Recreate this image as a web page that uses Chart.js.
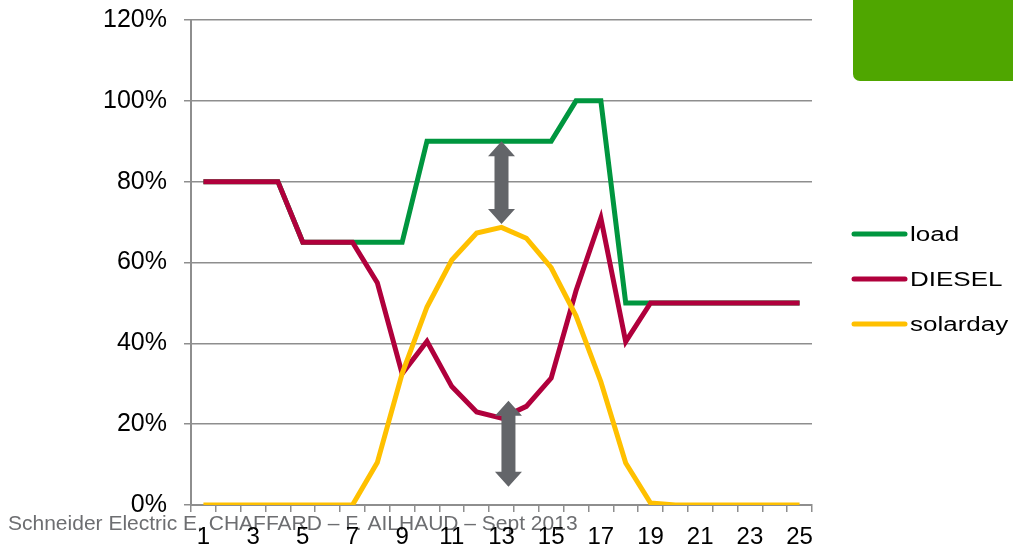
<!DOCTYPE html>
<html>
<head>
<meta charset="utf-8">
<script src="https://cdn.jsdelivr.net/npm/chart.js@4.4.1/dist/chart.umd.min.js"></script>
<style>
  html, body { margin: 0; padding: 0; background: #ffffff; }
  #wrap { position: relative; width: 1013px; height: 549px; }
  #badge { position: absolute; left: 853px; top: 0; width: 160px; height: 81px;
           background: #4fa600; border-bottom-left-radius: 7px; }
</style>
</head>
<body>
<div id="wrap">
  <canvas id="chart" width="1013" height="549"></canvas>
  <div id="badge"></div>
</div>
<script>
// Hours of the day
const hours = ['1','2','3','4','5','6','7','8','9','10','11','12','13',
               '14','15','16','17','18','19','20','21','22','23','24','25'];

// Share of rated power (%)
const load     = [80, 80, 80, 80, 65, 65, 65, 65, 65, 90, 90, 90, 90,
                  90, 90, 100, 100, 50, 50, 50, 50, 50, 50, 50, 50];
const diesel   = [80, 80, 80, 80, 65, 65, 65, 55, 32.5, 40.5, 29.3, 23, 21.5,
                  24.4, 31.4, 53, 71, 40.4, 50, 50, 50, 50, 50, 50, 50];
const solarday = [0, 0, 0, 0, 0, 0, 0, 10.5, 32.5, 49, 60.6, 67.3, 68.7,
                  66, 58.7, 46.8, 30.5, 10.4, 0.5, 0, 0, 0, 0, 0, 0];

const yTicks = [0, 20, 40, 60, 80, 100, 120];

// Double-headed gap arrows: [hour position, from %, to %]
const gapArrows = [
  [13, 90, 69.5],
  [13.28, 25.8, 4.5]
];

const footerText = 'Schneider Electric E. CHAFFARD \u2013 F. AILHAUD \u2013 Sept 2013';

const FONT = '"Liberation Sans", Arial, sans-serif';
const GRID = '#8e8e8e';

function xAt(scale, v) {
  const i = Math.floor(v);
  const f = v - i;
  const a = scale.getPixelForValue(i - 1);
  if (f === 0) return a;
  const b = scale.getPixelForValue(i);
  return a + (b - a) * f;
}

const arrowPlugin = {
  id: 'gapArrows',
  afterDatasetsDraw(chart) {
    const ctx = chart.ctx;
    const xs = chart.scales.x, ys = chart.scales.y;
    ctx.save();
    ctx.fillStyle = '#636569';
    gapArrows.forEach(([h, v1, v2]) => {
      const cx = xAt(xs, h);
      const yTop = ys.getPixelForValue(Math.max(v1, v2));
      const yBot = ys.getPixelForValue(Math.min(v1, v2));
      const hw = 13.5, sw = 7, hl = 15;
      ctx.beginPath();
      ctx.moveTo(cx, yTop);
      ctx.lineTo(cx + hw, yTop + hl);
      ctx.lineTo(cx + sw, yTop + hl);
      ctx.lineTo(cx + sw, yBot - hl);
      ctx.lineTo(cx + hw, yBot - hl);
      ctx.lineTo(cx, yBot);
      ctx.lineTo(cx - hw, yBot - hl);
      ctx.lineTo(cx - sw, yBot - hl);
      ctx.lineTo(cx - sw, yTop + hl);
      ctx.lineTo(cx - hw, yTop + hl);
      ctx.closePath();
      ctx.fill();
    });
    ctx.restore();
  }
};

const footerPlugin = {
  id: 'footer',
  beforeDraw(chart) {
    const ctx = chart.ctx;
    ctx.save();
    ctx.font = '21px ' + FONT;
    ctx.fillStyle = '#6d6e71';
    ctx.textBaseline = 'alphabetic';
    ctx.textAlign = 'left';
    ctx.fillText(footerText, 8, 530);
    ctx.restore();
  }
};

const legendPlugin = {
  id: 'sideLegend',
  afterDraw(chart) {
    const ctx = chart.ctx;
    const x0 = chart.chartArea.right + 40;
    const rows = [234, 279, 324];
    ctx.save();
    chart.data.datasets.forEach((ds, i) => {
      const y = rows[i];
      ctx.strokeStyle = ds.borderColor;
      ctx.lineWidth = 5;
      ctx.lineCap = 'round';
      ctx.beginPath();
      ctx.moveTo(x0 + 2, y);
      ctx.lineTo(x0 + 53, y);
      ctx.stroke();
      ctx.save();
      ctx.translate(x0 + 58, y);
      ctx.scale(1.3, 1);
      ctx.font = '20px ' + FONT;
      ctx.fillStyle = '#000000';
      ctx.textBaseline = 'middle';
      ctx.fillText(ds.label, 0, 1);
      ctx.restore();
    });
    ctx.restore();
  }
};

new Chart(document.getElementById('chart'), {
  type: 'line',
  data: {
    labels: hours,
    datasets: [
      { label: 'load', data: load, borderColor: '#00963f', order: 2 },
      { label: 'DIESEL', data: diesel, borderColor: '#b0003c', order: 1 },
      { label: 'solarday', data: solarday, borderColor: '#ffc000', order: 0 }
    ]
  },
  options: {
    responsive: false,
    animation: false,
    layout: { padding: { top: 20, right: 201, left: 0, bottom: 0 } },
    elements: {
      line: { borderWidth: 5, tension: 0, fill: false },
      point: { radius: 0, hoverRadius: 0 }
    },
    plugins: { legend: { display: false }, tooltip: { enabled: false } },
    scales: {
      x: {
        offset: true,
        afterFit(scale) { scale.height = 44; },
        grid: { display: true, drawOnChartArea: false, drawTicks: true,
                tickLength: 7, offset: true, color: GRID, lineWidth: 1.5 },
        border: { display: true, color: GRID, width: 2 },
        ticks: {
          autoSkip: false, maxRotation: 0, minRotation: 0, padding: 11,
          color: '#000000', font: { family: FONT, size: 24 },
          callback(val, idx) { return idx % 2 === 0 ? hours[idx] : ''; }
        }
      },
      y: {
        min: yTicks[0], max: yTicks[yTicks.length - 1],
        afterFit(scale) {
          scale.width = 191;
          scale.paddingTop = 0;
          scale.paddingBottom = 0;
        },
        afterBuildTicks(scale) { scale.ticks = yTicks.map(v => ({ value: v })); },
        grid: { color: GRID, lineWidth: 1.5, tickLength: 7, drawTicks: true },
        border: { display: true, color: GRID, width: 2 },
        ticks: {
          padding: 17, color: '#000000',
          font: { family: FONT, size: 25, lineHeight: 0.6 },
          callback(v) { return v + '%'; }
        }
      }
    }
  },
  plugins: [footerPlugin, arrowPlugin, legendPlugin]
});
</script>
</body>
</html>
